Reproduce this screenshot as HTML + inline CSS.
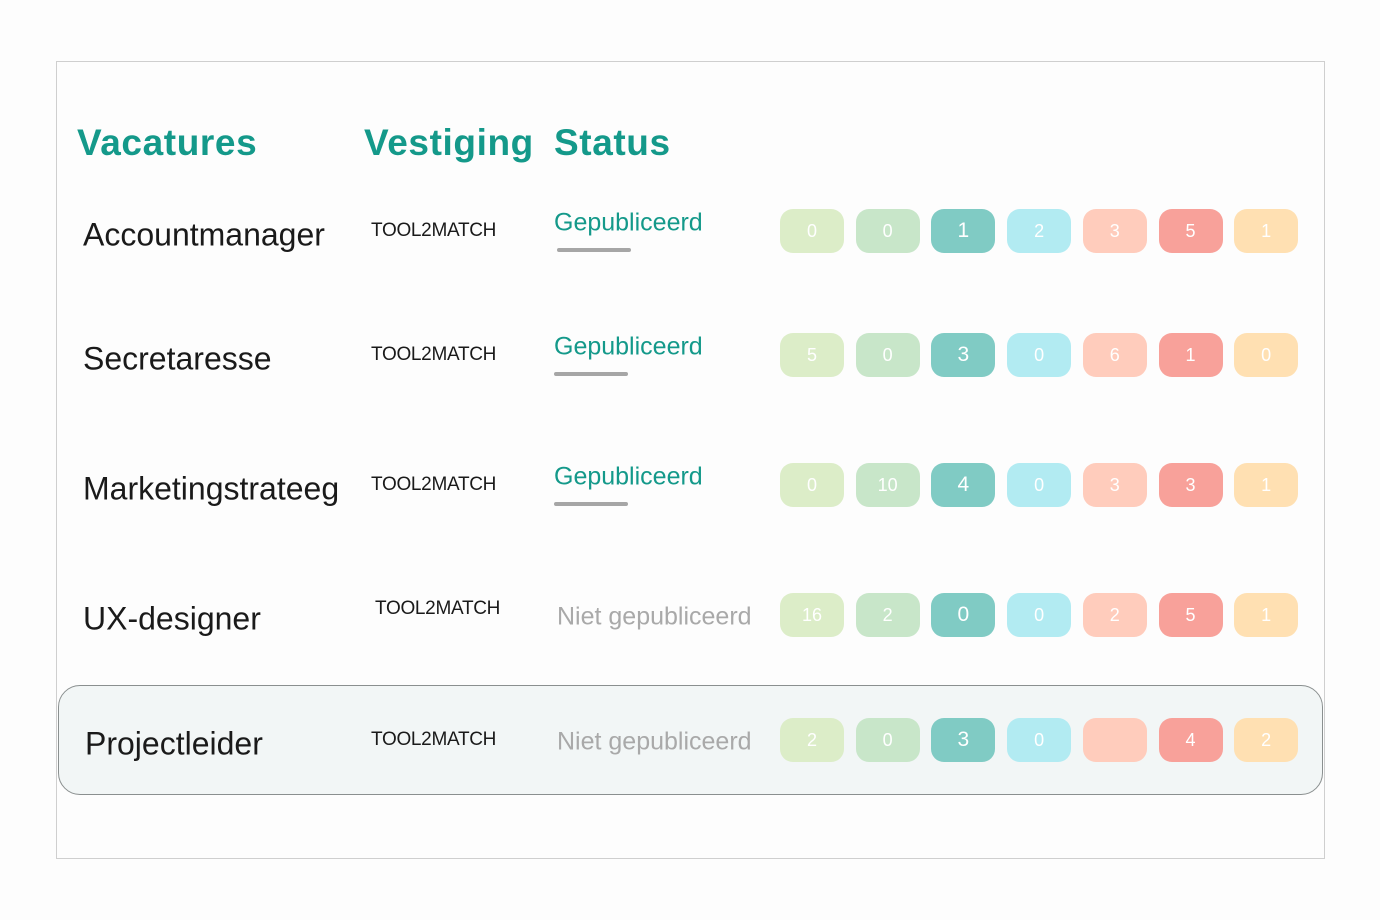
<!DOCTYPE html>
<html><head><meta charset="utf-8"><style>
body{margin:0;width:1380px;height:920px;background:#fdfdfd;position:relative;overflow:hidden;font-family:"Liberation Sans",sans-serif}
.abs{position:absolute}
.frame{left:56px;top:61px;width:1269px;height:798px;border:1px solid #cfcfcf;box-sizing:border-box}
.hd{top:122px;font-size:37px;font-weight:bold;color:#14998a;letter-spacing:0.6px}
.name{font-size:32px;color:#1a1a1a;transform:translateY(-50%)}
.loc{font-size:19px;color:#1a1a1a;transform:translateY(-50%);letter-spacing:-0.3px}
.st{font-size:25px;transform:translateY(-50%)}
.pill{width:64px;height:44px;border-radius:13px;color:#fff;font-size:18px;display:flex;align-items:center;justify-content:center}
.ul{height:4px;width:74px;background:#a6a6a6;border-radius:2px}
.sel{left:58px;top:685px;width:1265px;height:110px;border:1.5px solid #8a8f8f;border-radius:22px;background:#f2f6f6;box-sizing:border-box}
</style></head><body>
<div class="abs frame"></div>
<div class="abs sel"></div>
<div class="abs hd" style="left:77px">Vacatures</div>
<div class="abs hd" style="left:364px">Vestiging</div>
<div class="abs hd" style="left:554px">Status</div>
<div id="rows"></div>
<script>
const jobs=["Accountmanager","Secretaresse","Marketingstrateeg","UX-designer","Projectleider"];
const locations=["TOOL2MATCH","TOOL2MATCH","TOOL2MATCH","TOOL2MATCH","TOOL2MATCH"];
const statuses=["Gepubliceerd","Gepubliceerd","Gepubliceerd","Niet gepubliceerd","Niet gepubliceerd"];
const counts=[[0,0,1,2,3,5,1],[5,0,3,0,6,1,0],[0,10,4,0,3,3,1],[16,2,0,0,2,5,1],[2,0,3,0,"",4,2]];
const rowY=[231,355,485,615,740];
const colors=["#dcedc8","#c8e6c9","#80cbc4","#b2ebf2","#ffccbc","#f8a19a","#ffe0b2"];
const root=document.getElementById('rows');
function mk(cls,left,top,txt){const d=document.createElement('div');d.className='abs '+cls;d.style.left=left+'px';d.style.top=top+'px';if(txt!==undefined)d.textContent=txt;root.appendChild(d);return d;}
jobs.forEach((j,i)=>{
  const y=rowY[i];
  const n=mk('name',i==4?85:83,y+4,j);
  
  
  const l=mk('loc',i==3?375:371,y,locations[i]);
  if(i==3)l.style.top=(y-6)+'px';
  
  
  const pub=statuses[i]==="Gepubliceerd";
  const s=mk('st',pub?554:557,pub?y-8:y+2,statuses[i]);
  s.style.color=pub?'#14998a':'#a9a9a9';
  
  
  if(pub){const u=mk('ul',i==0?557:554,y+17);
    
    }
  counts[i].forEach((c,k)=>{
    const p=mk('pill',780+k*75.7,y-22,c);
    p.style.background=colors[k];
    if(k==2)p.style.fontSize='21px';
    
    
  });
});
</script>
</body></html>
